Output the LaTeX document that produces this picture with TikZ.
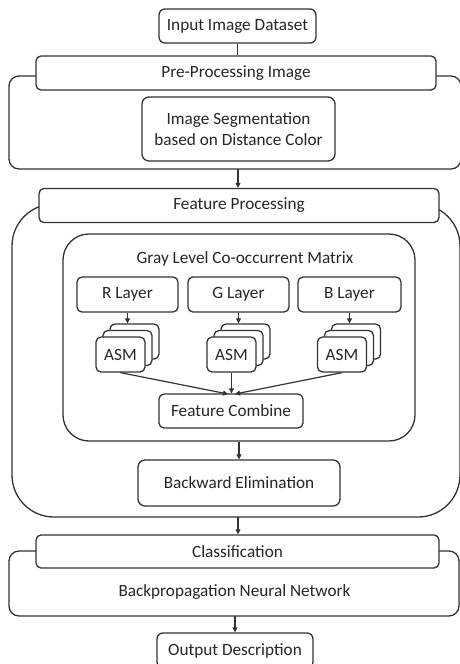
\documentclass[tikz,border=0pt]{standalone}
\usepackage{fontspec}
\setmainfont{Carlito}
\usetikzlibrary{arrows.meta}
\definecolor{lc}{HTML}{333333}
\definecolor{tc}{HTML}{262626}
\newcommand{\fs}{\fontsize{17.2}{20.5}\selectfont}
\tikzset{
  bx/.style={draw=lc, line width=1.3pt, rounded corners=5pt, fill=white, inner sep=0pt,
    font=\fs, text=tc, align=center},
  outer/.style={draw=lc, line width=1.3pt, fill=white, inner sep=0pt},
  lbl/.style={font=\fs, text=tc, inner sep=0pt},
  conn/.style={draw=lc, line width=1.2pt},
  arr/.style={conn, -{Triangle[length=5pt,width=5pt]}}
}
\begin{document}
\begin{tikzpicture}[x=1pt,y=-1pt]
\useasboundingbox (0,0) rectangle (460,664);
% pre-processing
\node[outer, rounded corners=10pt, minimum width=452pt, minimum height=93pt] (preo) at (235,122.5) {};
\node[bx, minimum width=400pt, minimum height=34pt] (pre) at (236,73) {Pre-Processing Image};
\node[bx, rounded corners=7pt, minimum width=193pt, minimum height=64pt] (seg) at (238.5,129) {Image Segmentation\\based on Distance Color};
\node[bx, rounded corners=6pt, minimum width=157pt, minimum height=34pt] (in) at (237.5,26) {Input Image Dataset};
% feature processing
\node[outer, rounded corners=42pt, minimum width=448pt, minimum height=313pt] (fpo) at (236,360.5) {};
\node[bx, minimum width=400pt, minimum height=34pt] (fp) at (239,205.5) {Feature Processing};
\node[outer, rounded corners=26pt, minimum width=352pt, minimum height=207pt] (glcm) at (239,337.5) {};
\node[lbl] (glcmt) at (245,259) {Gray Level Co-occurrent Matrix};
\node[bx, minimum width=101pt, minimum height=35pt] (R) at (127.5,294.5) {R Layer};
\node[bx, minimum width=101pt, minimum height=35pt] (G) at (238.5,294.5) {G Layer};
\node[bx, minimum width=103pt, minimum height=35pt] (B) at (349.5,294.5) {B Layer};
\foreach \n/\x in {R/120.5, G/231.5, B/342}{
  \node[bx, minimum width=49pt, minimum height=35pt] (asm\n b) at (\x+14,341.5) {};
  \node[bx, minimum width=49pt, minimum height=35pt] (asm\n m) at (\x+7,348) {};
  \node[bx, minimum width=49pt, minimum height=35pt] (asm\n f) at (\x,354.5) {ASM};
}
\node[bx, minimum width=144pt, minimum height=34pt] (fc) at (231,411) {Feature Combine};
\node[bx, rounded corners=7pt, minimum width=202pt, minimum height=46pt] (be) at (239,483) {Backward Elimination};
% classification
\node[outer, rounded corners=10pt, minimum width=450pt, minimum height=65pt] (clo) at (234,583.5) {};
\node[bx, minimum width=403pt, minimum height=33pt] (cl) at (237.5,551.5) {Classification};
\node[lbl] (bpnn) at (234.5,592) {Backpropagation Neural Network};
\node[bx, rounded corners=6pt, minimum width=156pt, minimum height=35pt] (out) at (235,650.5) {Output Description};
% connectors
\draw[conn] (in.south) -- (in.south |- pre.north);
\coordinate (p1) at (238,169);
\draw[arr] (p1) -- (p1 |- fp.north);
\draw[arr] (R.south) -- (R.south |- asmRb.north);
\draw[arr] (G.south) -- (G.south |- asmGb.north);
\draw[arr] (B.south) -- (B.south |- asmBb.north);
\coordinate (fcl) at (228,394);
\coordinate (fcr) at (235,394);
\draw[arr] (asmRf.south) -- (fcl);
\draw[arr] (asmGf.south) -- (asmGf.south |- fc.north);
\draw[arr] (asmBf.south) -- (fcr);
\draw[arr] (glcm.south -| be.north) -- (be.north);
\coordinate (p2) at (238,517);
\draw[arr] (p2) -- (p2 |- cl.north);
\coordinate (p3) at (235,616);
\draw[arr] (p3) -- (out.north);
\end{tikzpicture}
\end{document}
